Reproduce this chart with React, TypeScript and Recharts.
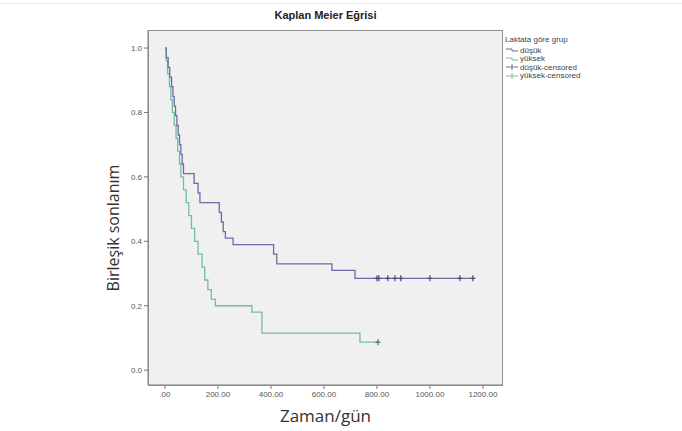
import {
  CartesianGrid,
  ComposedChart,
  Line,
  Scatter,
  XAxis,
  YAxis,
} from 'recharts';

// survival curve, "düşük" group (time in days, cumulative survival)
const lowTimes = [0, 5, 12, 18, 25, 30, 35, 40, 45, 50, 55, 60, 65, 70, 110, 125, 132, 200, 205, 213, 220, 228, 257, 410, 422, 630, 717, 1170];
const lowSurv = [1.0, 0.97, 0.94, 0.91, 0.88, 0.85, 0.82, 0.79, 0.76, 0.73, 0.7, 0.67, 0.64, 0.61, 0.58, 0.55, 0.52, 0.52, 0.49, 0.46, 0.43, 0.41, 0.39, 0.36, 0.33, 0.31, 0.285, 0.285];
const lowCensored = [800, 807, 841, 868, 890, 1000, 1113, 1162];

// "yüksek" group
const highTimes = [0, 5, 10, 17, 22, 28, 35, 42, 48, 55, 60, 70, 80, 90, 100, 112, 125, 140, 150, 162, 175, 190, 328, 366, 736, 804];
const highSurv = [1.0, 0.96, 0.92, 0.88, 0.84, 0.8, 0.76, 0.72, 0.68, 0.64, 0.6, 0.56, 0.52, 0.48, 0.44, 0.4, 0.36, 0.32, 0.28, 0.25, 0.22, 0.2, 0.18, 0.115, 0.087, 0.087];
const highCensored = [804];

const xTicks = [0, 200, 400, 600, 800, 1000, 1200];
const yTicks = [0, 0.2, 0.4, 0.6, 0.8, 1.0];
const legendItems = ['düşük', 'yüksek', 'düşük-censored', 'yüksek-censored'];

const LOW = '#6e6aa8';
const HIGH = '#72c096';

const lowData = lowTimes.map((t, i) => ({ t, s: lowSurv[i] }));
const highData = highTimes.map((t, i) => ({ t, s: highSurv[i] }));
const lowMarks = lowCensored.map((t) => ({ t, s: 0.285 }));
const highMarks = highCensored.map((t) => ({ t, s: 0.087 }));

function formatX(v: number): string {
  return v === 0 ? '.00' : v.toFixed(2);
}

function Cross(color: string) {
  return (props: any) => (
    <g stroke={color} strokeWidth={1.2}>
      <line x1={props.cx} x2={props.cx} y1={props.cy - 3} y2={props.cy + 3} />
      <line x1={props.cx - 2.5} x2={props.cx + 2.5} y1={props.cy} y2={props.cy} />
    </g>
  );
}

const tickStyle = { fontSize: 8, fill: '#555', fontFamily: 'Liberation Sans, Arial' };

export default function App() {
  return (
    <div style={{ position: 'absolute', left: 0, top: 0, width: 682, height: 431, background: '#fff', fontFamily: 'Liberation Sans, Arial' }}>
      <div style={{ position: 'absolute', left: 0, top: 3, width: 682, height: 1, background: '#f6eccc' }} />
      <ComposedChart
        width={682}
        height={431}
        margin={{ top: 30, right: 180, bottom: 26, left: 118 }}
      >
        <CartesianGrid horizontal={false} vertical={false} fill="#f0f0f0" />
        <XAxis
          type="number"
          dataKey="t"
          domain={[-64, 1272]}
          ticks={xTicks}
          tickFormatter={formatX}
          tick={tickStyle}
          tickSize={4}
          stroke="#777"
          height={20}
          allowDataOverflow
        />
        <YAxis
          type="number"
          dataKey="s"
          domain={[-0.046, 1.056]}
          ticks={yTicks}
          tickFormatter={(v: number) => v.toFixed(1)}
          tick={tickStyle}
          tickSize={4}
          stroke="#777"
          width={30}
          allowDataOverflow
        />
        <Line data={highData} dataKey="s" type="stepAfter" stroke={HIGH} strokeWidth={1.3} dot={false} isAnimationActive={false} />
        <Line data={lowData} dataKey="s" type="stepAfter" stroke={LOW} strokeWidth={1.3} dot={false} isAnimationActive={false} />
        <Scatter data={lowMarks} dataKey="s" shape={Cross('#4a4680')} isAnimationActive={false} />
        <Scatter data={highMarks} dataKey="s" shape={Cross('#3d7a58')} isAnimationActive={false} />
      </ComposedChart>
      <div style={{ position: 'absolute', left: 148, top: 30, width: 353, height: 354, border: '1px solid #8c8c8c', pointerEvents: 'none' }} />
      <div style={{ position: 'absolute', left: 148, top: 9, width: 355, textAlign: 'center', fontSize: 11, fontWeight: 'bold', color: '#222' }}>
        Kaplan Meier Eğrisi
      </div>
      <div style={{ position: 'absolute', left: 148, top: 404, width: 355, textAlign: 'center', fontSize: 17, color: '#333', fontFamily: 'Open Sans' }}>
        Zaman/gün
      </div>
      <div style={{ position: 'absolute', left: 113, top: 228, transform: 'translate(-50%, -50%) rotate(-90deg)', whiteSpace: 'nowrap', fontSize: 16, color: '#333', fontFamily: 'Open Sans' }}>
        Birleşik sonlanım
      </div>
      <div style={{ position: 'absolute', left: 505, top: 35, fontSize: 8, color: '#444' }}>
        <div style={{ marginBottom: 2 }}>Laktata göre grup</div>
        {legendItems.map((name, i) => (
          <div key={name} style={{ display: 'flex', alignItems: 'center', height: 8.5 }}>
            <svg width={14} height={8}>
              {i < 2 ? (
                <polyline points="1,3 7,3 7,5 13,5" fill="none" stroke={i === 0 ? LOW : HIGH} strokeWidth={1} />
              ) : (
                <g stroke={i === 2 ? LOW : HIGH} strokeWidth={1}>
                  <line x1={1} x2={13} y1={4} y2={4} />
                  <line x1={7} x2={7} y1={1} y2={7} />
                </g>
              )}
            </svg>
            <span style={{ marginLeft: 1 }}>{name}</span>
          </div>
        ))}
      </div>
    </div>
  );
}
